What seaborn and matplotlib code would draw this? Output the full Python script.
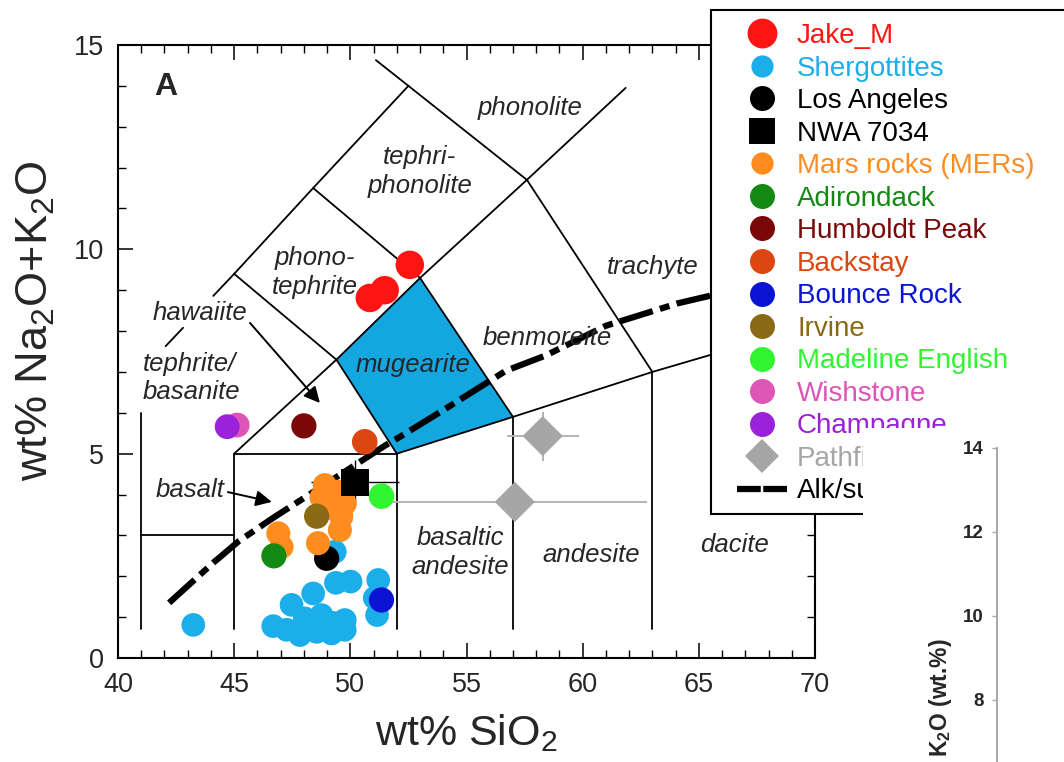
import matplotlib
matplotlib.use("Agg")
import matplotlib.pyplot as plt
from matplotlib import font_manager
from matplotlib.patches import Rectangle, Polygon
from matplotlib.lines import Line2D
from matplotlib.ticker import MultipleLocator
import pandas as pd
import seaborn as sns

# ---------------------------------------------------------------------------
# Sample compositions: wt% SiO2 and wt% Na2O+K2O
# ---------------------------------------------------------------------------
JAKE_SIO2 = [52.56, 51.48, 50.84]
JAKE_ALK = [9.62, 9.00, 8.81]

SHERG_SIO2 = [43.24, 46.68, 47.47, 48.40, 49.38, 50.01, 51.20, 51.05, 51.15,
              48.04, 48.76, 49.76, 47.26, 47.83, 48.55, 49.19, 49.76, 49.25,
              49.33]
SHERG_ALK = [0.81, 0.78, 1.30, 1.58, 1.84, 1.87, 1.91, 1.47, 1.05,
             0.97, 1.05, 0.93, 0.69, 0.56, 0.64, 0.60, 0.69, 0.86,
             2.60]

LA_SIO2 = [48.98]
LA_ALK = [2.44]

NWA_SIO2 = [50.2]
NWA_ALK = [4.3]
NWA_SIO2_ERR = [1.9]
NWA_ALK_ERR = [0.55]

MER_SIO2 = [48.90, 49.48, 48.76, 49.76, 49.26, 49.61, 49.55, 46.90, 48.61, 47.04]
MER_ALK = [4.23, 4.07, 3.93, 3.78, 3.66, 3.46, 3.13, 3.05, 2.81, 2.72]

ADIRONDACK_SIO2, ADIRONDACK_ALK = [46.71], [2.50]
HUMBOLDT_SIO2, HUMBOLDT_ALK = [48.0], [5.68]
BACKSTAY_SIO2, BACKSTAY_ALK = [50.62], [5.29]
BOUNCE_SIO2, BOUNCE_ALK = [51.34], [1.42]
IRVINE_SIO2, IRVINE_ALK = [48.55], [3.47]
MADELINE_SIO2, MADELINE_ALK = [51.34], [3.96]
WISHSTONE_SIO2, WISHSTONE_ALK = [45.13], [5.70]
CHAMPAGNE_SIO2, CHAMPAGNE_ALK = [44.70], [5.66]

PATHFINDER_SIO2 = [58.28, 57.08]
PATHFINDER_ALK = [5.43, 3.82]
PATHFINDER_SIO2_ERR = [1.55, 5.7]
PATHFINDER_ALK_ERR = [0.6, 0.0]

# Alkaline / subalkaline divide (Irvine & Baragar)
ALKSUB_SIO2 = [42.2, 44.1, 45.2, 46.6, 48.1, 49.6, 51.5, 52.1, 54.1, 56.7,
               58.4, 61.0, 64.1, 66.5]
ALKSUB_ALK = [1.35, 2.33, 2.86, 3.40, 3.95, 4.50, 5.20, 5.40, 6.10, 7.03,
              7.40, 8.13, 8.68, 9.00]

# TAS field boundaries (polylines, wt% SiO2 / wt% alkalis)
TAS_LINES = [
    [(41, 0.7), (41, 6.0)],
    [(41, 3), (45, 3)],
    [(45, 0.7), (45, 5), (52, 5), (52, 0.7)],
    [(45, 5), (49.4, 7.3), (52, 5)],
    [(52, 5), (57, 5.9), (63, 7), (69, 8)],
    [(57, 0.7), (57, 5.9)],
    [(63, 0.7), (63, 7)],
    [(49.4, 7.3), (45, 9.4), (44.1, 8.86)],
    [(42.8, 8.08), (42.05, 7.63)],
    [(49.4, 7.3), (53, 9.3), (57, 5.9)],
    [(53, 9.3), (57.6, 11.7), (63, 7)],
    [(45, 9.4), (48.4, 11.5), (52.5, 14), (57.6, 11.7)],
    [(52.5, 14), (51.1, 14.63)],
    [(48.4, 11.5), (53, 9.3)],
    [(57.6, 11.7), (61.85, 13.95)],
]
MUGEARITE_FIELD = [(49.4, 7.3), (52, 5), (57, 5.9), (53, 9.3)]

FIELD_LABELS = [
    ("phonolite", 57.72, 13.46, "center"),
    ("tephri-\nphonolite", 52.99, 11.90, "center"),
    ("phono-\ntephrite", 48.47, 9.44, "center"),
    ("trachyte", 63.01, 9.57, "center"),
    ("benmoreite", 58.49, 7.83, "center"),
    ("hawaiite", 43.53, 8.44, "center"),
    ("tephrite/\nbasanite", 41.05, 6.85, "left"),
    ("mugearite", 52.69, 7.17, "center"),
    ("basalt", 43.10, 4.11, "center"),
    ("basaltic\nandesite", 54.75, 2.59, "center"),
    ("andesite", 60.39, 2.52, "center"),
    ("dacite", 66.54, 2.76, "center"),
]

W, H = 1064, 762
DPI = 100

sns.set_theme(style="ticks")
names = {f.name for f in font_manager.fontManager.ttflist}
SANS = "Liberation Sans" if "Liberation Sans" in names else "DejaVu Sans"
NARROW = "Liberation Sans Narrow" if "Liberation Sans Narrow" in names else SANS
plt.rcParams["font.family"] = [SANS, "DejaVu Sans"]
plt.rcParams["mathtext.fontset"] = "custom"
plt.rcParams["mathtext.rm"] = NARROW
plt.rcParams["mathtext.it"] = NARROW + ":italic"
plt.rcParams["mathtext.bf"] = SANS + ":bold"

fig = plt.figure(figsize=(W / DPI, H / DPI), dpi=DPI)
ax = fig.add_axes([118 / W, 1 - 658 / H, 697 / W, 613 / H])

# ---- field fill and boundaries ----
ax.add_patch(Polygon(MUGEARITE_FIELD, closed=True, facecolor="#14a6de",
                     edgecolor="none", zorder=1))
for seg in TAS_LINES:
    xs, ys = zip(*seg)
    ax.plot(xs, ys, color="black", lw=1.3, zorder=2, solid_joinstyle="miter")

ax.plot(ALKSUB_SIO2, ALKSUB_ALK, color="black", lw=4.5,
        ls=(0, (5.5, 1.2, 1.6, 1.2)), dash_capstyle="butt", zorder=3)

for text, x, y, ha in FIELD_LABELS:
    ax.text(x, y, text, ha=ha, va="center", fontsize=18.5, style="italic",
            family=SANS, linespacing=1.25, zorder=4, multialignment=ha)

ax.text(42.06, 13.97, "A", ha="center", va="center", fontsize=23,
        weight="bold", family=SANS, zorder=4)

arrow = dict(arrowstyle="-|>", color="black", lw=1.4, mutation_scale=24,
             shrinkA=0, shrinkB=0)
ax.annotate("", xy=(48.69, 6.24), xytext=(45.68, 8.20), arrowprops=arrow, zorder=4)
ax.annotate("", xy=(46.62, 3.82), xytext=(44.73, 4.06), arrowprops=arrow, zorder=4)

# ---- error bars ----
ax.errorbar(PATHFINDER_SIO2, PATHFINDER_ALK, xerr=PATHFINDER_SIO2_ERR,
            yerr=PATHFINDER_ALK_ERR, fmt="none", ecolor="#b4b4b4",
            elinewidth=1.4, capsize=0, zorder=5)
ax.errorbar(NWA_SIO2, NWA_ALK, xerr=NWA_SIO2_ERR, yerr=NWA_ALK_ERR,
            fmt="none", ecolor="black", elinewidth=1.0, capsize=0, zorder=5)

# ---- samples ----
groups = [
    ("Pathfinder", PATHFINDER_SIO2, PATHFINDER_ALK, "#a6a6a6", "D", 420, 14.5),
    ("Shergottites", SHERG_SIO2, SHERG_ALK, "#1caeea", "o", 290, 16),
    ("Los Angeles", LA_SIO2, LA_ALK, "black", "o", 330, 18),
    ("Mars rocks (MERs)", MER_SIO2, MER_ALK, "#ff8c1e", "o", 300, 16),
    ("Adirondack", ADIRONDACK_SIO2, ADIRONDACK_ALK, "#148a14", "o", 330, 18),
    ("Irvine", IRVINE_SIO2, IRVINE_ALK, "#8a6a14", "o", 330, 18),
    ("Humboldt Peak", HUMBOLDT_SIO2, HUMBOLDT_ALK, "#7a0808", "o", 330, 18),
    ("Backstay", BACKSTAY_SIO2, BACKSTAY_ALK, "#dc4610", "o", 340, 18),
    ("Bounce Rock", BOUNCE_SIO2, BOUNCE_ALK, "#0a14d2", "o", 330, 18),
    ("Madeline English", MADELINE_SIO2, MADELINE_ALK, "#30f530", "o", 340, 18),
    ("Wishstone", WISHSTONE_SIO2, WISHSTONE_ALK, "#dd55b5", "o", 320, 18),
    ("Champagne", CHAMPAGNE_SIO2, CHAMPAGNE_ALK, "#9a22d8", "o", 320, 18),
    ("NWA 7034", NWA_SIO2, NWA_ALK, "black", "s", 380, 19),
    ("Jake_M", JAKE_SIO2, JAKE_ALK, "#ff1414", "o", 420, 21.5),
]
for z, (name, xs, ys, col, mk, s, _) in enumerate(groups):
    df = pd.DataFrame({"SiO2": xs, "alk": ys})
    sns.scatterplot(data=df, x="SiO2", y="alk", ax=ax, color=col, marker=mk,
                    s=s, edgecolor="none", linewidth=0, legend=False,
                    zorder=6 + z)

ax.set_xlim(40, 70)
ax.set_ylim(0, 15)
ax.xaxis.set_major_locator(MultipleLocator(5))
ax.xaxis.set_minor_locator(MultipleLocator(1))
ax.yaxis.set_major_locator(MultipleLocator(5))
ax.yaxis.set_minor_locator(MultipleLocator(1))
ax.tick_params(which="both", direction="in", top=True, right=True,
               color="black")
ax.tick_params(which="major", length=11, width=1.1, labelsize=19.5, pad=10)
ax.tick_params(which="minor", length=6, width=1.0)
for lab in ax.get_xticklabels() + ax.get_yticklabels():
    lab.set_family(NARROW)
for sp in ax.spines.values():
    sp.set_linewidth(1.5)
    sp.set_color("black")
ax.set_xlabel(r"wt% SiO$_2$", fontsize=31, family=NARROW, labelpad=10)
ax.set_ylabel(r"wt% Na$_2$O+K$_2$O", fontsize=32.5, family=SANS)
ax.yaxis.set_label_coords(-0.088, 0.55)

# ---- legend panel ----
fig.add_artist(Rectangle((711 / W, 1 - 514 / H), 500 / W, 504 / H,
                         transform=fig.transFigure, facecolor="white",
                         edgecolor="black", lw=1.5, zorder=4))
order = ["Jake_M", "Shergottites", "Los Angeles", "NWA 7034",
         "Mars rocks (MERs)", "Adirondack", "Humboldt Peak", "Backstay",
         "Bounce Rock", "Irvine", "Madeline English", "Wishstone",
         "Champagne", "Pathfinder"]
by_name = {g[0]: g for g in groups}
handles, labels, colors = [], [], []
for name in order:
    _, _, _, col, mk, _, ms = by_name[name]
    handles.append(Line2D([], [], ls="none", marker=mk, color=col,
                          markersize=ms + (3 if mk == "D" else 0),
                          markeredgewidth=0))
    labels.append(name)
    colors.append(col)
handles.append(Line2D([], [], color="black", lw=4.5, ls=(0, (3.8, 0.4)),
                      dash_capstyle="butt"))
labels.append("Alk/subalkaline")
colors.append("black")

leg = fig.legend(handles, labels, loc="upper left",
                 bbox_to_anchor=(737 / W, 1 - 23 / H), frameon=False,
                 prop={"family": SANS, "size": 20}, handlelength=1.8,
                 handletextpad=0.36, labelspacing=0.235, borderpad=0,
                 borderaxespad=0)
leg.set_zorder(5)
for t, c in zip(leg.get_texts(), colors):
    t.set_color(c)

# ---- neighbouring K2O panel ----
fig.add_artist(Rectangle((863 / W, 0), 300 / W, (762 - 428) / H,
                         transform=fig.transFigure, facecolor="white",
                         edgecolor="none", zorder=6))
ax2 = fig.add_axes([997 / W, (762 - 1036) / H, 200 / W, 588 / H], zorder=7)
ax2.set_facecolor("white")
ax2.set_ylim(0, 14)
ax2.set_yticks([8, 10, 12, 14])
ax2.set_xticks([])
for side in ("top", "right", "bottom"):
    ax2.spines[side].set_visible(False)
ax2.spines["left"].set_color("#a8a8a8")
ax2.spines["left"].set_linewidth(1.4)
ax2.tick_params(axis="y", direction="out", length=3.5, width=1.0,
                color="#a8a8a8", pad=6, labelsize=13.5)
for lab in ax2.get_yticklabels():
    lab.set_weight("bold")
    lab.set_family(SANS)
fig.text(940 / W, 1 - 638 / H, r"K$_\mathbf{2}$O (wt.%)", rotation=90,
         ha="center", va="top", fontsize=16.5, weight="bold", family=SANS,
         zorder=8)

fig.savefig("out.png", dpi=DPI)
